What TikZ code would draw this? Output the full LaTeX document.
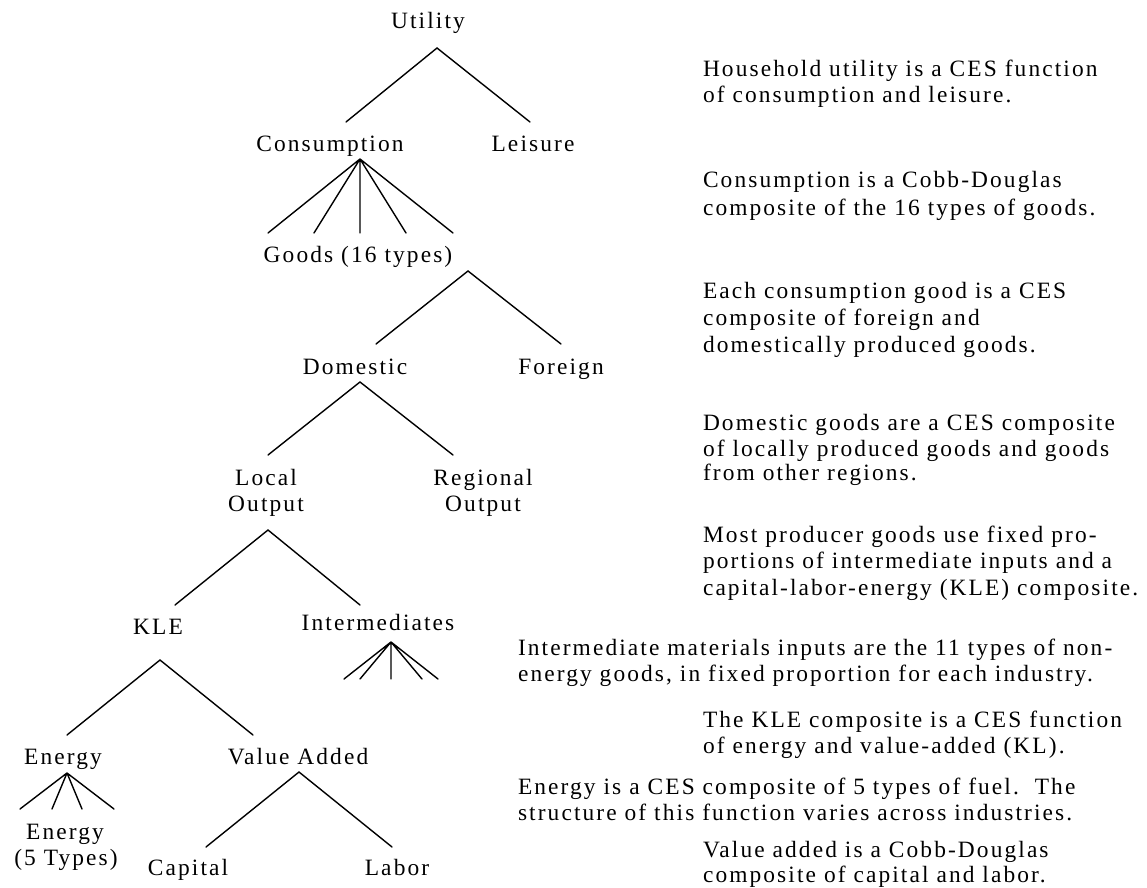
\documentclass[tikz,border=0pt]{standalone}
\usepackage{fontspec}
\setmainfont{Liberation Serif}[LetterSpace=9]
\begin{document}
\begin{tikzpicture}[x=0.5pt,y=-0.5pt,
  lbl/.style={inner sep=0pt,outer sep=0pt,font=\fontsize{11.7}{13}\selectfont},
  tl/.style={lbl,anchor=base west},
  tn/.style={lbl,anchor=base},
  edge/.style={line width=0.7pt,line cap=round,line join=miter}]
\useasboundingbox (0,0) rectangle (1147,888);
% tree labels
\node[tn] (util) at (428,29) {Utility};
\node[tn] (cons) at (330,152) {Consumption};
\node[tn] (leis) at (533,152) {Leisure};
\node[tn] (goods) at (358,263) {Goods (16 types)};
\node[tn] (dom) at (355,374) {Domestic};
\node[tn] (fore) at (561,374) {Foreign};
\node[tn] (loc) at (266,485) {Local};
\node[tn] (locb) at (266,511) {Output};
\node[tn] (reg) at (483,485) {Regional};
\node[tn] (regb) at (483,511) {Output};
\node[tn] (kle) at (158,634) {KLE};
\node[tn] (inter) at (378,630) {Intermediates};
\node[tn] (en) at (63,764) {Energy};
\node[tn] (va) at (298,764) {Value Added};
\node[tn] (ent) at (65,839) {Energy};
\node[tn] (entb) at (66,865) {(5 Types)};
\node[tn] (capi) at (188,875) {Capital};
\node[tn] (labo) at (397,875) {Labor};
% connector points
\coordinate (uA) at (437,48); \coordinate (uL) at (346,122); \coordinate (uR) at (530,122);
\coordinate (cA) at (360,159);
\coordinate (c1) at (268,233); \coordinate (c2) at (314,233); \coordinate (c3) at (360,233);
\coordinate (c4) at (406,233); \coordinate (c5) at (453,233);
\coordinate (gA) at (468,271); \coordinate (gL) at (376,344); \coordinate (gR) at (561,344);
\coordinate (dA) at (360,382); \coordinate (dL) at (268,455); \coordinate (dR) at (453,455);
\coordinate (lA) at (268,530); \coordinate (lL) at (175,605); \coordinate (lR) at (360,605);
\coordinate (iA) at (391,642);
\coordinate (i1) at (344,679); \coordinate (i2) at (360,679); \coordinate (i3) at (391,679);
\coordinate (i4) at (422,679); \coordinate (i5) at (438,679);
\coordinate (kA) at (160,660); \coordinate (kL) at (67,735); \coordinate (kR) at (253,735);
\coordinate (eA) at (67,773);
\coordinate (e1) at (20,809); \coordinate (e2) at (52,809); \coordinate (e3) at (82,809); \coordinate (e4) at (114,809);
\coordinate (vA) at (299,772); \coordinate (vL) at (206,847); \coordinate (vR) at (392,847);
% connectors
\draw[edge] (uL) -- (uA) -- (uR);
\draw[edge] (cA) -- (c1) (cA) -- (c2) (cA) -- (c3) (cA) -- (c4) (cA) -- (c5);
\draw[edge] (gL) -- (gA) -- (gR);
\draw[edge] (dL) -- (dA) -- (dR);
\draw[edge] (lL) -- (lA) -- (lR);
\draw[edge] (iA) -- (i1) (iA) -- (i2) (iA) -- (i3) (iA) -- (i4) (iA) -- (i5);
\draw[edge] (kL) -- (kA) -- (kR);
\draw[edge] (eA) -- (e1) (eA) -- (e2) (eA) -- (e3) (eA) -- (e4);
\draw[edge] (vL) -- (vA) -- (vR);
% explanations
\node[tl] (t1a) at (703,77) {Household utility is a CES function};
\node[tl] (t1b) at (703,103) {of consumption and leisure.};
\node[tl] (t2a) at (703,188) {Consumption is a Cobb-Douglas};
\node[tl] (t2b) at (703,215) {composite of the 16 types of goods.};
\node[tl] (t3a) at (703,299) {Each consumption good is a CES};
\node[tl] (t3b) at (703,325) {composite of foreign and};
\node[tl] (t3c) at (703,352) {domestically produced goods.};
\node[tl] (t4a) at (703,430) {Domestic goods are a CES composite};
\node[tl] (t4b) at (703,456) {of locally produced goods and goods};
\node[tl] (t4c) at (703,480) {from other regions.};
\node[tl] (t5a) at (703,542) {Most producer goods use fixed pro-};
\node[tl] (t5b) at (703,568) {portions of intermediate inputs and a};
\node[tl] (t5c) at (703,595) {capital-labor-energy (KLE) composite.};
\node[tl] (t6a) at (518,655) {Intermediate materials inputs are the 11 types of non-};
\node[tl] (t6b) at (518,681) {energy goods, in fixed proportion for each industry.};
\node[tl] (t7a) at (703,727) {The KLE composite is a CES function};
\node[tl] (t7b) at (703,753) {of energy and value-added (KL).};
\node[tl] (t8a) at (518,794) {Energy is a CES composite of 5 types of fuel.\ \ The};
\node[tl] (t8b) at (518,820) {structure of this function varies across industries.};
\node[tl] (t9a) at (703,857) {Value added is a Cobb-Douglas};
\node[tl] (t9b) at (703,882) {composite of capital and labor.};
\end{tikzpicture}
\end{document}
